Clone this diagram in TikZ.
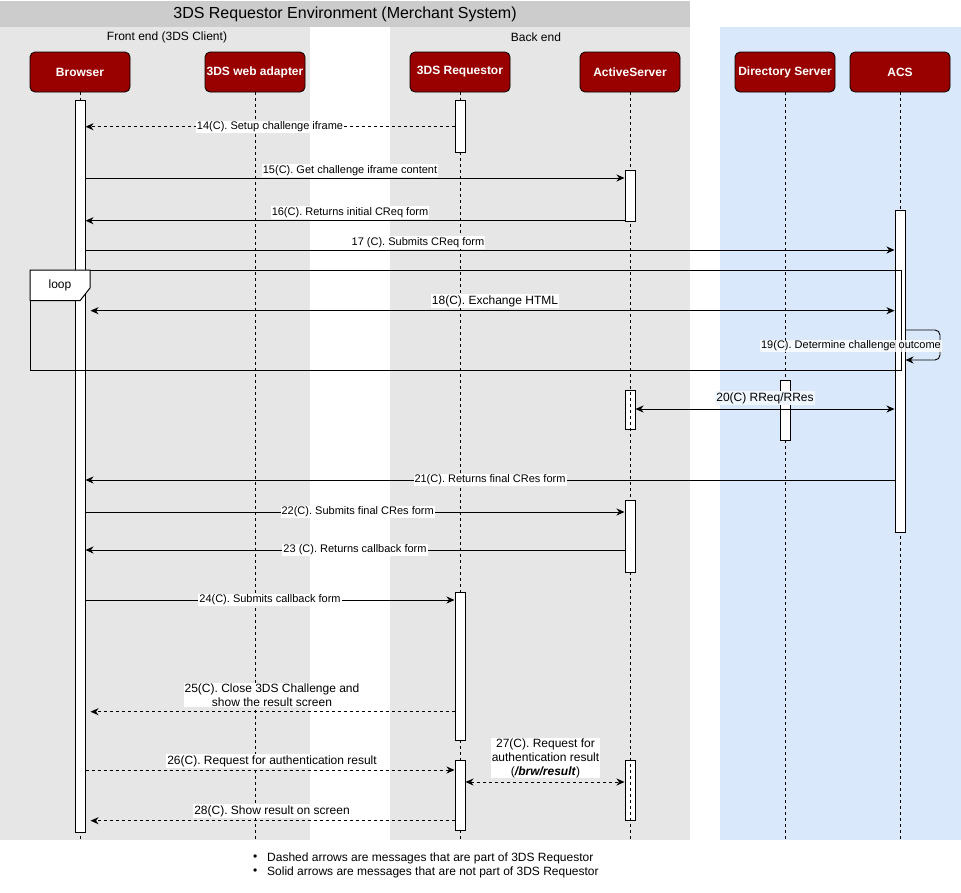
\documentclass[tikz,border=0pt]{standalone}
\usepackage{fontspec}
\setmainfont{Liberation Sans}
\usetikzlibrary{arrows.meta}
\definecolor{titlegray}{HTML}{CCCCCC}
\definecolor{panelgray}{HTML}{E6E6E6}
\definecolor{panelblue}{HTML}{DAE8FC}
\definecolor{darkred}{HTML}{990000}
\tikzset{
  actor/.style={draw=black, fill=darkred, rounded corners=5pt, minimum width=100pt, minimum height=40pt, text=white, font=\fontsize{12}{14}\selectfont\bfseries, line width=0.8pt, inner sep=0pt},
  lifeline/.style={line width=0.8pt, dash pattern=on 3pt off 3pt},
  actbar/.style={draw=black, fill=white, line width=1pt, minimum width=10pt, inner sep=0pt},
  tip/.tip={Stealth[length=8pt,width=7pt,inset=2.5pt]},
  msg/.style={line width=0.9pt, -tip},
  msgd/.style={msg, dash pattern=on 3pt off 3pt},
  msgb/.style={line width=0.9pt, tip-tip},
  msgbd/.style={msgb, dash pattern=on 3pt off 3pt},
  lbl/.style={fill=white, inner sep=1pt, font=\fontsize{11}{13}\selectfont, align=center},
  lblb/.style={lbl, font=\fontsize{12}{14}\selectfont},
  hdr/.style={font=\fontsize{12}{14}\selectfont},
  legend/.style={font=\fontsize{12}{14}\selectfont, anchor=west, inner sep=0pt},
}
\begin{document}
\begin{tikzpicture}[x=1pt,y=-1pt]
\useasboundingbox (0,0) rectangle (961,892);
\fill[white] (0,0) rectangle (961,892);
% panels
\fill[titlegray] (0,1) rectangle (690,27);
\fill[panelgray] (0,27) rectangle (310,840);
\fill[panelgray] (390,27) rectangle (690,840);
\fill[panelblue] (720,27) rectangle (961,840);
\node[font=\fontsize{16}{18}\selectfont] (title) at (345,14) {3DS Requestor Environment (Merchant System)};
\node[hdr] (front) at (167,37.5) {Front end (3DS Client)};
\node[hdr] (back) at (536,37.5) {Back end};
% actors
\node[actor] (browser) at (80,72) {Browser};
\node[actor] (adapter) at (255,72) {3DS web adapter};
\node[actor] (requestor) at (460,72) {3DS Requestor};
\node[actor] (active) at (630,72) {ActiveServer};
\node[actor] (ds) at (785,72) {Directory Server};
\node[actor] (acs) at (900,72) {ACS};
% lifeline ends
\coordinate (endB) at (80,840);
\coordinate (endW) at (255,840);
\coordinate (endR) at (460,840);
\coordinate (endA) at (630,840);
\coordinate (endD) at (785,840);
\coordinate (endC) at (900,840);
% activation bars drawn under lifeline (dashes visible)
\node[actbar, minimum height=39.3pt] (as2) at (630,410.3) {};
\node[actbar, minimum height=60pt] (as4) at (630,790) {};
% lifelines
\draw[lifeline] (browser.south) -- (endB);
\draw[lifeline] (adapter.south) -- (endW);
\draw[lifeline] (requestor.south) -- (endR);
\draw[lifeline] (active.south) -- (endA);
\draw[lifeline] (ds.south) -- (endD);
\draw[lifeline] (acs.south) -- (endC);
% activation bars
\node[actbar, minimum height=732pt] (brBar) at (80,466) {};
\node[actbar, minimum height=52pt] (rq1) at (460,126) {};
\node[actbar, minimum height=51pt] (as1) at (630,195.5) {};
\node[actbar, minimum height=322pt] (acs1) at (900,371) {};
\node[actbar, minimum height=60pt] (ds1) at (785,410) {};
\node[actbar, minimum height=72pt] (as3) at (630,536) {};
\node[actbar, minimum height=148pt] (rq2) at (460,666) {};
\node[actbar, minimum height=70pt] (rq3) at (460,795) {};
% loop frame
\draw[line width=1pt] (30,270) rectangle (901,370);
\draw[line width=1pt, fill=white] (30,270) -- (90,270) -- (90,288) -- (80,300.7) -- (30,300.7) -- cycle;
\node[font=\fontsize{12}{14}\selectfont] (looplbl) at (60,285.5) {loop};
% y levels
\coordinate (y14) at (0,126.7);
\coordinate (y15) at (0,178);
\coordinate (y16) at (0,220.7);
\coordinate (y17) at (0,250);
\coordinate (y18) at (0,310.7);
\coordinate (y20) at (0,409);
\coordinate (y21) at (0,480);
\coordinate (y22) at (0,512);
\coordinate (y23) at (0,550);
\coordinate (y24) at (0,600);
\coordinate (y25) at (0,711.7);
\coordinate (y26) at (0,770);
\coordinate (y27) at (0,782);
\coordinate (y28) at (0,820.7);
\coordinate (b18) at (90.5,310.7);
\coordinate (b25) at (90.5,711.7);
\coordinate (b28) at (90.5,820.7);
% messages
\draw[msgd] (rq1.west |- y14) -- node[lbl] (l14) {14(C). Setup challenge iframe} (brBar.east |- y14);
\draw[msg] (brBar.east |- y15) -- (as1.west |- y15);
\node[lbl] (l15) at (350,170.5) {15(C). Get challenge iframe content};
\draw[msg] (as1.west |- y16) -- (brBar.east |- y16);
\node[lbl] (l16) at (350,212.5) {16(C). Returns initial CReq form};
\draw[msg] (brBar.east |- y17) -- (acs1.west |- y17);
\node[lbl] (l17) at (418,242.5) {17 (C). Submits CReq form};
\draw[msgb] (b18) -- (acs1.west |- y18);
\node[lblb] (l18) at (495,301) {18(C). Exchange HTML};
% self message 19
\coordinate (s19a) at (905,330);
\coordinate (s19b) at (940,330);
\coordinate (s19c) at (940,360);
\coordinate (s19d) at (905.5,360);
\draw[msg, rounded corners=5pt] (s19a) -- (s19b) -- (s19c) -- (s19d);
\node[lbl, fill=white, fill opacity=0.8, text opacity=1] (l19) at (851,346) {19(C). Determine challenge outcome};
\draw[msgb] (as2.east |- y20) -- (acs1.west |- y20);
\node[lblb, fill=panelblue!40] (l20) at (765,398) {20(C) RReq/RRes};
\draw[msg] (acs1.west |- y21) -- node[lbl, pos=0.5] (l21) {21(C). Returns final CRes form} (brBar.east |- y21);
\draw[msg] (brBar.east |- y22) -- node[lbl, pos=0.505] (l22) {22(C). Submits final CRes form} (as3.west |- y22);
\draw[msg] (as3.west |- y23) -- node[lbl, pos=0.5] (l23) {23 (C). Returns callback form} (brBar.east |- y23);
\draw[msg] (brBar.east |- y24) -- node[lbl, pos=0.5] (l24) {24(C). Submits callback form} (rq2.west |- y24);
\draw[msgd] (rq2.west |- y25) -- (b25);
\node[lblb, inner sep=0.5pt] (l25) at (272,695) {25(C). Close 3DS Challenge and\\show the result screen};
\draw[msgd] (brBar.east |- y26) -- (rq3.west |- y26);
\node[lblb] (l26) at (272,761) {26(C). Request for authentication result};
\draw[msgbd] (rq3.east |- y27) -- (as4.west |- y27);
\node[lblb, inner sep=0.5pt] (l27) at (545.5,758) {27(C). Request for\\authentication result\\(\textbf{\textit{/brw/result}})};
\draw[msgd] (rq3.west |- y28) -- (b28);
\node[lblb] (l28) at (272,811) {28(C). Show result on screen};
% legend
\node[legend] (bul1) at (253,858) {•};
\node[legend] (bul2) at (253,872) {•};
\node[legend] (leg1) at (267,858) {Dashed arrows are messages that are part of 3DS Requestor};
\node[legend] (leg2) at (267,872) {Solid arrows are messages that are not part of 3DS Requestor};
\end{tikzpicture}
\end{document}
